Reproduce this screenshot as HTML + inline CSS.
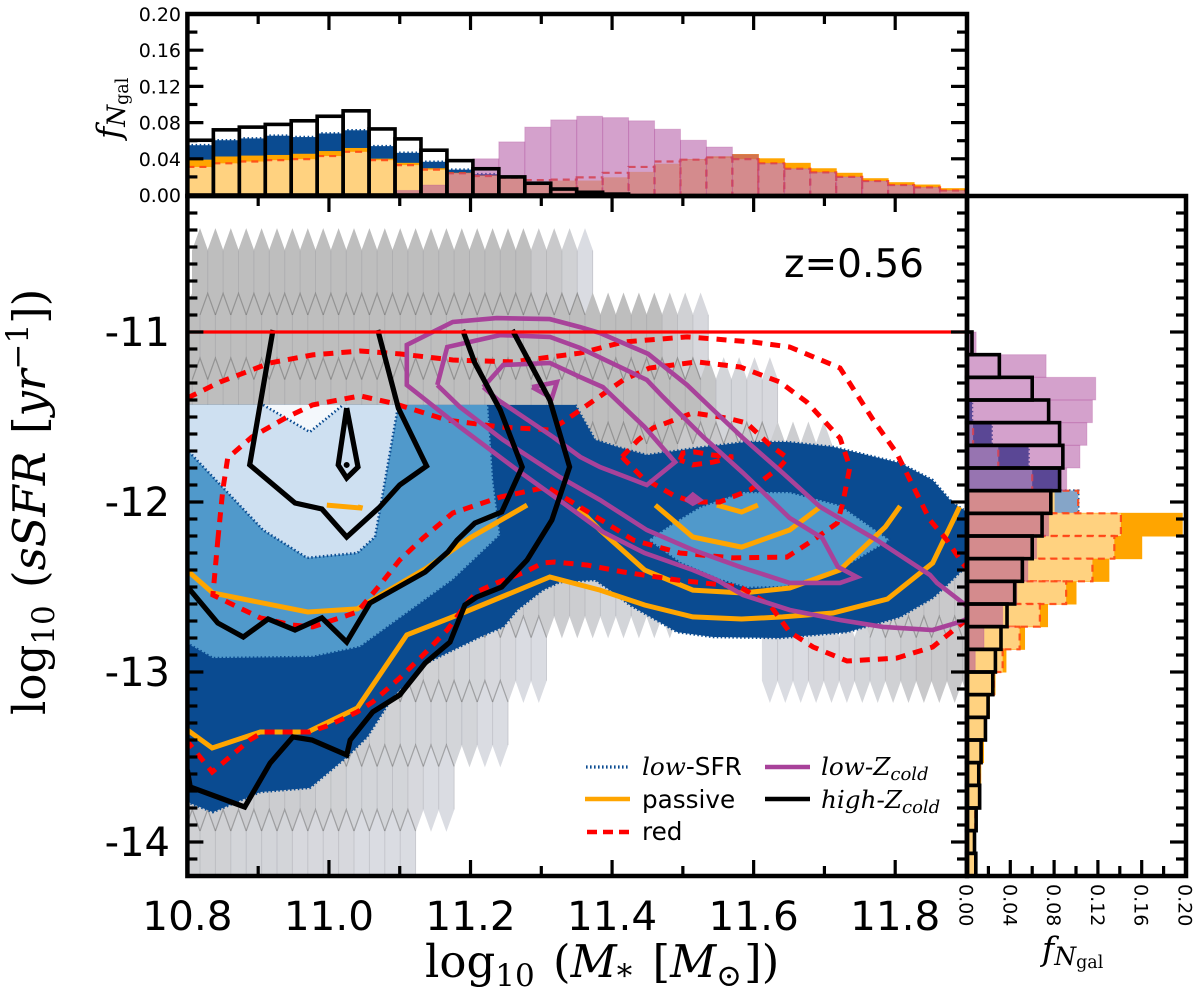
<!DOCTYPE html>
<html lang="en">
<head>
<meta charset="utf-8">
<title>sSFR versus stellar mass at z=0.56</title>
<style>
html,body{margin:0;padding:0;background:#fff;}
svg{display:block;}
text{fill:#000;}
.sans{font-family:"DejaVu Sans","Liberation Sans",sans-serif;}
.serif{font-family:"DejaVu Serif","Liberation Serif",serif;}
</style>
</head>
<body>
<svg id="figure" xmlns="http://www.w3.org/2000/svg" width="1200" height="992" viewBox="0 0 1200 992">
  <defs>
    <clipPath id="main-clip"><rect x="187" y="196" width="780" height="680"/></clipPath>
  </defs>
  <g id="main-plot" clip-path="url(#main-clip)">
    <g id="hex-layer"></g>
    <g id="blue-layer"></g>
    <g id="orange-layer"></g>
    <g id="red-layer"></g>
    <g id="purple-layer"></g>
    <g id="black-layer"></g>
    <g id="limit-layer"></g>
  </g>
  <g id="top-hist"></g>
  <g id="right-hist"></g>
  <g id="ticks"></g>
  <g fill="none" stroke="#000" stroke-width="4.5">
    <rect x="187.4" y="14" width="779.6" height="182"/>
    <rect x="187.4" y="196" width="779.6" height="680"/>
    <rect x="967" y="196" width="219" height="680"/>
  </g>
  <g id="tick-labels"></g>

  <text class="sans" x="784" y="277" font-size="39">z=0.56</text>

  <text class="serif" x="425" y="977" font-size="45">log<tspan font-size="31" dy="9">10</tspan><tspan dy="-9" dx="4"> (</tspan><tspan font-style="italic">M</tspan><tspan font-size="31" dy="9" font-style="italic">*</tspan><tspan dy="-9" dx="6"> [</tspan><tspan font-style="italic">M</tspan><tspan font-size="31" dy="9">⊙</tspan><tspan dy="-9" dx="2">])</tspan></text>

  <text class="serif" transform="translate(45,715) rotate(-90)" x="0" y="0" font-size="45">log<tspan font-size="31" dy="9">10</tspan><tspan dy="-9" dx="3"> (</tspan><tspan font-style="italic">sSFR</tspan><tspan dx="3"> [</tspan><tspan font-style="italic">yr</tspan><tspan font-size="31" dy="-17">−1</tspan><tspan dy="17">])</tspan></text>

  <text class="serif" transform="translate(120,139) rotate(-90)" x="0" y="0" font-size="33" font-style="italic">f<tspan font-size="25" dy="5">N</tspan><tspan font-size="17.5" dy="3" font-style="normal">gal</tspan></text>
  <text class="serif" x="1042" y="960" font-size="33" font-style="italic">f<tspan font-size="25" dy="5">N</tspan><tspan font-size="17.5" dy="3" font-style="normal">gal</tspan></text>

  <g>
    <g>
      <line x1="586" y1="767" x2="629" y2="767" stroke="#0A4B91" stroke-width="3.2" stroke-dasharray="1.6 2.4"/>
      <text class="sans" x="642" y="775" font-size="24.7"><tspan class="serif" font-style="italic">low</tspan>-SFR</text>
    </g>
    <g>
      <line x1="585" y1="799" x2="630" y2="799" stroke="#FFA500" stroke-width="4.5"/>
      <text class="sans" x="642" y="808" font-size="24.7">passive</text>
    </g>
    <g>
      <line x1="587" y1="832" x2="629" y2="832" stroke="#FF0000" stroke-width="4.5" stroke-dasharray="10 6"/>
      <text class="sans" x="642" y="840" font-size="24.7">red</text>
    </g>
    <g>
      <line x1="765" y1="767" x2="810" y2="767" stroke="#A8429A" stroke-width="4.5"/>
      <text class="serif" x="821" y="775" font-size="24.7" font-style="italic">low-Z<tspan font-size="18" dy="5">cold</tspan></text>
    </g>
    <g>
      <line x1="765" y1="799" x2="810" y2="799" stroke="#000" stroke-width="4.5"/>
      <text class="serif" x="821" y="808" font-size="24.7" font-style="italic">high-Z<tspan font-size="18" dy="5">cold</tspan></text>
    </g>
  </g>
</svg>

<script>
/* ---------- histogram values (fraction of galaxies per bin) ---------- */
const topBlue = [.055,.0605,.0625,.0655,.064,.068,.0715,.054,.0466,.0367,.028,.023,0,0,0,0,0,0,0,0,0,0,0,0,0,0,0,0,0,0];
const topOrange = [.0385,.042,.043,.0437,.045,.048,.0514,.0396,.035,.029,.024,.021,.0176,.011,.0154,.0154,.019,.025,.034,.039,.042,.0447,.04,.035,.029,.024,.018,.0136,.011,.007];
const topRed = [.031,.035,.037,.0385,.0396,.043,.0477,.0385,.033,.028,.024,.021,.019,.0165,.017,.0195,.0245,.031,.037,.039,.0415,.0396,.035,.029,.025,.02,.0154,.011,.0084,.005];
const topPurple = [0,0,0,0,0,0,0,.001,.005,.011,.024,.04,.0587,.075,.083,.087,.0855,.082,.0727,.0605,.053,.0447,.035,.029,.025,.02,.0154,.011,.0084,.005];
const topBlack = [.0605,.072,.075,.078,.082,.087,.093,.073,.062,.0495,.038,.029,.02,.013,.0066,.003,.001,0,0,0,0,0,0,0,0,0,0,0,0,0];

const rightBlue = [0,0,0,0,0,0,0,0,0,.005,.023,.0567,.085,.102,.08,.06,.05,.04,.03,.02,.01,0,0,0,0,0,0,0,0,0];
const rightOrange = [0,0,0,0,0,0,0,0,0,0,0,0,0,.08,.197,.16,.13,.1,.074,.053,.036,.026,.021,.018,.0155,.013,.012,.0095,.008,.009];
const rightRed = [0,0,0,0,0,0,0,0,0,0,.006,.029,.06,.102,.141,.135,.115,.091,.067,.0485,.033,.025,.02,.017,.014,.012,.012,.008,.007,.008];
const rightPurple = [0,0,0,0,0,0,.0088,.0727,.118,.115,.11,.1036,.0915,.078,.075,.064,.056,.046,.033,.016,.008,0,0,0,0,0,0,0,0,0];
const rightBlack = [0,0,0,0,0,0,.005,.03,.06,.075,.085,.088,.085,.077,.069,.06,.051,.044,.037,.0315,.0264,.024,.0197,.0173,.0133,.0112,.012,.0088,.0073,.0085];

/* ---------- tick labels ---------- */
const massTickLabels = ["10.8","11.0","11.2","11.4","11.6","11.8"];
const ssfrTickLabels = ["-11","-12","-13","-14"];
const fractionTickLabels = ["0.00","0.04","0.08","0.12","0.16","0.20"];

/* ---------- hexbin of the full sample: [row, first column, density levels] ---------- */
const hexRowSsfr = [-10.647,-11.026,-11.406,-11.785,-12.165,-12.544,-12.924,-13.303,-13.682,-14.062];
const hexRun0 = [0,0,[9,9,9,9,9,9,9,9,9,9,9,9,9,9,9,9,9,9,9,9,9,9,6,6,4,1]];
const hexRun1 = [1,-1,[9,9,9,9,9,9,9,9,9,9,9,9,9,9,9,9,9,9,9,9,9,9,9,9,9,9,9,9,9,9,9,6,4,2]];
const hexRun2 = [2,-1,[9,9,9,9,9,9,9,9,9,9,9,9,9,9,9,9,9,9,9,9,9,9,9,9,9,9,9,9,9,9,9,9,9,9,7,3,3,2,2]];
const hexRun3 = [3,-1,[9,9,9,9,9,9,9,9,9,9,9,9,9,9,9,9,9,9,9,9,9,9,9,9,9,9,9,9,9,9,9,9,6,6,6,6,6,6,5,5,4,3]];
const hexRun5a = [5,10,[5,5,5,5,5,5,5,5,5,5,5,5,5,5,5,4,3,3,3,3,3]];
const hexRun5b = [5,43,[5,5,6,6,6,6,6]];
const hexRun6a = [6,0,[5,5,5,5,5,5,5,5,5,5,5,5,5,5,5,4,4,3,3,2,2,1,1]];
const hexRun6b = [6,37,[1,1,1,2,2,2,3,3,4,5,6,6,6,6]];
const hexRun7 = [7,-1,[5,5,5,5,5,5,5,5,5,5,5,5,4,4,3,3,3,3,3,1,1]];
const hexRun8 = [8,-1,[5,5,5,5,5,5,5,5,5,4,4,3,3,3,3,2,1,1]];
const hexRun9 = [9,-1,[4,4,4,3,3,3,3,2,2,2,2,1,1,1,1]];
const hexRuns = [hexRun0,hexRun1,hexRun2,hexRun3,hexRun5a,hexRun5b,hexRun6a,hexRun6b,hexRun7,hexRun8,hexRun9];

/* ---------- contour vertices: [log10 M*, log10 sSFR] ---------- */
const lowSfrOuter = [[11.348,-11.429],[11.376,-11.635],[11.407,-11.676],[11.449,-11.724],[11.52,-11.682],[11.59,-11.647],[11.647,-11.647],[11.712,-11.676],[11.807,-11.771],[11.853,-11.871],[11.88,-12],[11.901,-12.059],[11.901,-12.371],[11.895,-12.4],[11.873,-12.488],[11.853,-12.565],[11.807,-12.676],[11.732,-12.765],[11.637,-12.8],[11.543,-12.794],[11.492,-12.765],[11.425,-12.606],[11.397,-12.518],[11.376,-12.459],[11.326,-12.471],[11.302,-12.518],[11.266,-12.635],[11.246,-12.735],[11.213,-12.794],[11.175,-12.871],[11.138,-12.947],[11.09,-13.147],[11.054,-13.382],[11.025,-13.5],[10.973,-13.682],[10.903,-13.706],[10.836,-13.824],[10.804,-13.771],[10.8,-13.753],[10.8,-11.429]];
const lowSfrMidLeft = [[11.225,-11.429],[11.232,-11.871],[11.242,-12.194],[11.175,-12.459],[11.044,-12.853],[10.977,-12.912],[10.836,-12.918],[10.804,-12.841],[10.8,-12.829],[10.8,-11.429]];
const lowSfrMidRight = [[11.451,-12.224],[11.486,-12.124],[11.524,-12.029],[11.552,-11.988],[11.585,-11.941],[11.651,-11.941],[11.722,-12.018],[11.793,-12.224],[11.722,-12.4],[11.647,-12.5],[11.59,-12.506],[11.552,-12.459],[11.496,-12.359],[11.451,-12.224]];
const lowSfrInner = [[11.098,-11.429],[11.072,-12.047],[11.065,-12.206],[11.04,-12.3],[10.969,-12.329],[10.907,-12.165],[10.804,-11.712],[10.8,-11.694],[10.8,-11.429]];
const lowSfrPeak = [[10.907,-11.429],[10.973,-11.588],[11.02,-11.429]];

const passiveA = [[10.8,-12.4],[10.804,-12.418],[10.836,-12.535],[10.97,-12.647],[11.04,-12.629],[11.068,-12.559],[11.138,-12.388],[11.199,-12.212],[11.28,-12.018]];
const passiveB = [[10.8,-13.341],[10.804,-13.353],[10.835,-13.447],[10.903,-13.353],[10.97,-13.353],[11.04,-13.212],[11.11,-12.782],[11.189,-12.653],[11.312,-12.441],[11.383,-12.518],[11.446,-12.606],[11.514,-12.676],[11.583,-12.688],[11.641,-12.676],[11.712,-12.653],[11.789,-12.571],[11.853,-12.359],[11.891,-12.029]];
const passiveC = [[11.352,-12.035],[11.383,-12.165],[11.446,-12.4],[11.514,-12.518],[11.585,-12.535],[11.651,-12.506],[11.722,-12.4],[11.786,-12.147],[11.807,-12.024]];
const passiveD = [[11.461,-12.018],[11.514,-12.206],[11.583,-12.265],[11.651,-12.165],[11.694,-12.029]];
const passiveE = [[11.548,-12.018],[11.583,-12.059],[11.606,-12.018]];
const passiveF = [[10.997,-12.018],[11.044,-12.035],[11.045,-12.018]];

const redOuterUpper = [[10.8,-11.388],[10.846,-11.294],[10.917,-11.182],[10.977,-11.135],[11.044,-11.112],[11.1,-11.129],[11.175,-11.165],[11.26,-11.176],[11.355,-11.124],[11.416,-11.059],[11.506,-11.029],[11.599,-11.059],[11.651,-11.088],[11.722,-11.212],[11.769,-11.518],[11.802,-11.712],[11.849,-12.106],[11.873,-12.224],[11.895,-12.359],[11.901,-12.388]];
const redOuterLower = [[11.901,-12.694],[11.895,-12.712],[11.853,-12.853],[11.802,-12.918],[11.732,-12.935],[11.684,-12.853],[11.651,-12.765],[11.623,-12.606],[11.581,-12.5],[11.492,-12.459],[11.416,-12.412],[11.365,-12.371],[11.319,-12.353],[11.302,-12.359],[11.277,-12.412],[11.237,-12.476],[11.209,-12.529],[11.195,-12.594],[11.167,-12.753],[11.133,-12.9],[11.1,-13.035],[11.062,-13.176],[11.04,-13.235],[11.001,-13.312],[10.973,-13.353],[10.907,-13.353],[10.888,-13.4],[10.835,-13.588],[10.804,-13.429],[10.8,-13.41]];
const redMiddle = [[10.843,-12.224],[10.85,-11.929],[10.857,-11.741],[10.891,-11.618],[10.941,-11.5],[10.977,-11.429],[11.044,-11.376],[11.09,-11.418],[11.167,-11.518],[11.242,-11.559],[11.312,-11.576],[11.331,-11.529],[11.355,-11.459],[11.416,-11.282],[11.453,-11.212],[11.52,-11.176],[11.581,-11.206],[11.637,-11.294],[11.675,-11.412],[11.722,-11.624],[11.736,-11.794],[11.726,-12.006],[11.718,-12.124],[11.684,-12.224],[11.647,-12.324],[11.571,-12.329],[11.496,-12.3],[11.43,-12.224],[11.373,-12.076],[11.308,-11.912],[11.242,-11.971],[11.175,-12.065],[11.133,-12.212],[11.1,-12.341],[11.072,-12.488],[11.04,-12.647],[10.977,-12.735],[10.949,-12.724],[10.903,-12.682],[10.836,-12.547],[10.843,-12.224]];
const redInner = [[11.414,-11.735],[11.437,-11.635],[11.458,-11.565],[11.514,-11.476],[11.562,-11.506],[11.59,-11.535],[11.623,-11.665],[11.648,-11.741],[11.637,-11.794],[11.595,-11.929],[11.552,-12],[11.514,-12],[11.486,-11.959],[11.442,-11.853],[11.414,-11.735]];
const redPeak = [[11.496,-11.753],[11.5,-11.712],[11.517,-11.706],[11.543,-11.724],[11.571,-11.735],[11.543,-11.765],[11.514,-11.782],[11.496,-11.753]];

const purpleOuter = [[11.901,-12.612],[11.894,-12.588],[11.859,-12.476],[11.849,-12.429],[11.774,-12.224],[11.694,-12.029],[11.641,-11.829],[11.585,-11.624],[11.543,-11.459],[11.506,-11.312],[11.451,-11.129],[11.383,-11.006],[11.355,-10.971],[11.312,-10.924],[11.237,-10.918],[11.175,-10.941],[11.11,-11.076],[11.11,-11.312],[11.185,-11.559],[11.266,-11.812],[11.331,-12.006],[11.387,-12.176],[11.446,-12.3],[11.514,-12.4],[11.548,-12.459],[11.585,-12.547],[11.651,-12.635],[11.722,-12.694],[11.783,-12.735],[11.853,-12.753],[11.891,-12.706],[11.901,-12.688]];
const purpleMiddle = [[11.153,-11.312],[11.167,-11.088],[11.242,-11.018],[11.312,-11.029],[11.355,-11.094],[11.449,-11.282],[11.472,-11.382],[11.529,-11.618],[11.585,-11.829],[11.651,-12.094],[11.697,-12.212],[11.719,-12.382],[11.746,-12.441],[11.722,-12.476],[11.651,-12.476],[11.581,-12.382],[11.514,-12.282],[11.449,-12.165],[11.383,-11.988],[11.326,-11.853],[11.246,-11.635],[11.185,-11.441],[11.153,-11.312]];
const purpleInner = [[11.218,-11.324],[11.246,-11.194],[11.312,-11.182],[11.355,-11.265],[11.387,-11.324],[11.446,-11.559],[11.489,-11.765],[11.449,-11.9],[11.383,-11.794],[11.355,-11.735],[11.317,-11.618],[11.239,-11.4],[11.218,-11.324]];
const purplePeakA = [[11.287,-11.324],[11.322,-11.294],[11.315,-11.388],[11.287,-11.324]];
const purplePeakB = [[11.503,-11.988],[11.514,-11.947],[11.527,-11.988],[11.514,-12.018],[11.503,-11.988]];

const blackOuter = [[10.921,-10.988],[10.888,-11.782],[10.952,-12.006],[10.99,-12.041],[11.025,-12.206],[11.072,-12.029],[11.1,-11.9],[11.138,-11.788],[11.098,-11.447],[11.069,-10.988]];
const blackTear = [[11.025,-11.447],[11.013,-11.782],[11.025,-11.859],[11.041,-11.794],[11.025,-11.447]];
const blackCore = [11.025,-11.782];
const blackMiddle = [[11.189,-10.988],[11.206,-11.182],[11.242,-11.459],[11.273,-11.794],[11.244,-12.059],[11.206,-12.124],[11.181,-12.224],[11.168,-12.294],[11.136,-12.412],[11.058,-12.594],[11.025,-12.824],[10.99,-12.682],[10.952,-12.753],[10.914,-12.688],[10.879,-12.794],[10.843,-12.712],[10.804,-12.518],[10.8,-12.5]];
const blackWide = [[11.259,-10.988],[11.312,-11.4],[11.34,-11.794],[11.315,-12.106],[11.28,-12.341],[11.244,-12.5],[11.209,-12.559],[11.192,-12.606],[11.171,-12.824],[11.136,-12.947],[11.1,-13.135],[11.062,-13.235],[11.03,-13.4],[11.025,-13.488],[10.976,-13.4],[10.949,-13.382],[10.917,-13.535],[10.881,-13.794],[10.804,-13.676],[10.8,-13.576]];

const ssfrLimit = [-11];

/* ---------- axis functions ---------- */
const NS = 'http://www.w3.org/2000/svg';
function xScale(m){ return 187.4 + (m - 10.8) * 707.8; }
function yScale(s){ return 332 + (-11 - s) * 170; }
function topY(f){ return 195 - f * 905; }
function rightX(f){ return 966.5 + f * 1095; }
function massEdge(k){ return 10.8 + k * (1.1 / 30); }
function ssfrEdge(j){ return -10.2 - j * (4 / 30); }

function mk(tag, attrs, parent){
  const el = document.createElementNS(NS, tag);
  for (const key in attrs) el.setAttribute(key, attrs[key]);
  parent.appendChild(el);
  return el;
}
function pathOf(points){
  return points.map(function(p, i){
    return (i ? 'L' : 'M') + xScale(p[0]).toFixed(1) + ' ' + yScale(p[1]).toFixed(1);
  }).join('');
}

/* ---------- hexbin ---------- */
const hexLayer = document.getElementById('hex-layer');
const hexColMass = 10.8178;
const hexColStep = 0.02176;
const hexTip = 0.253;
const hexShoulder = 0.1265;
function hexCenterMass(row, col){ return hexColMass + hexColStep * (col + (row % 2 ? 0.5 : 0)); }
function hexColour(level){
  const t = level / 9;
  const r = Math.round(222 + (190 - 222) * t);
  const g = Math.round(224 + (190 - 224) * t);
  const b = Math.round(230 + (190 - 230) * t);
  return 'rgb(' + r + ',' + g + ',' + b + ')';
}
const hexOccupied = {};
hexRuns.forEach(function(run){
  run[2].forEach(function(level, n){ hexOccupied[run[0] + ':' + (run[1] + n)] = true; });
});
hexRuns.forEach(function(run){
  const row = run[0];
  run[2].forEach(function(level, n){
    const col = run[1] + n;
    const cm = hexCenterMass(row, col);
    const cs = hexRowSsfr[row];
    const hw = hexColStep / 2;
    const pts = [[cm, cs + hexTip],[cm + hw, cs + hexShoulder],[cm + hw, cs - hexShoulder],[cm, cs - hexTip],[cm - hw, cs - hexShoulder],[cm - hw, cs + hexShoulder]];
    const colour = hexColour(level);
    const hex = mk('path', {d: pathOf(pts) + 'Z', fill: colour, stroke: colour, 'stroke-width': 0.6}, hexLayer);
    
    
  });
});
hexRuns.forEach(function(run){
  const row = run[0];
  run[2].forEach(function(level, n){
    const col = run[1] + n;
    const cm = hexCenterMass(row, col);
    const cs = hexRowSsfr[row];
    const hw = hexColStep / 2;
    const side = mk('path', {d: pathOf([[cm + hw, cs + hexShoulder],[cm + hw, cs - hexShoulder]]), fill: 'none', stroke: 'rgba(125,125,130,.22)', 'stroke-width': 1}, hexLayer);
    
    
    const leftAbove = (row % 2) ? col : col - 1;
    if (!(hexOccupied[(row - 1) + ':' + leftAbove] && hexOccupied[(row - 1) + ':' + (leftAbove + 1)])) return;
    const pts = [[cm - hw, cs + hexShoulder],[cm, cs + hexTip],[cm + hw, cs + hexShoulder]];
    const edge = mk('path', {d: pathOf(pts), fill: 'none', stroke: 'rgba(105,105,105,.5)', 'stroke-width': 1.2}, hexLayer);
    
    
  });
});

/* ---------- low-SFR filled contours ---------- */
const blueLayer = document.getElementById('blue-layer');
function filledContour(points, fill, name){
  const c = mk('path', {d: pathOf(points), fill: fill, stroke: '#0A4B91', 'stroke-width': 2.6, 'stroke-dasharray': '1.5 2.4'}, blueLayer);
  
  
}
filledContour(lowSfrOuter, '#0A4B91', 'low-sfr-outer-contour');
filledContour(lowSfrMidLeft, '#5099CB', 'low-sfr-middle-contour-left');
filledContour(lowSfrMidRight, '#5099CB', 'low-sfr-middle-contour-right');
filledContour(lowSfrInner, '#CEE0F1', 'low-sfr-inner-contour');
filledContour(lowSfrPeak, '#F4F8FC', 'low-sfr-peak-contour');

/* ---------- line contours ---------- */
function lineContour(layerId, points, colour, width, dash, name){
  const attrs = {d: pathOf(points), fill: 'none', stroke: colour, 'stroke-width': width, 'stroke-linejoin': 'miter', 'stroke-miterlimit': 4};
  if (dash) attrs['stroke-dasharray'] = dash;
  const c = mk('path', attrs, document.getElementById(layerId));
  
  
}
[passiveA, passiveB, passiveC, passiveD, passiveE, passiveF].forEach(function(points){
  lineContour('orange-layer', points, '#FFA500', 5, null, 'passive-contour');
});
[redOuterUpper, redOuterLower, redMiddle, redInner, redPeak].forEach(function(points){
  lineContour('red-layer', points, '#FF0000', 5, '10 8', 'red-contour');
});
[purpleOuter, purpleMiddle, purpleInner, purplePeakA].forEach(function(points){
  lineContour('purple-layer', points, '#A8429A', 4.6, null, 'low-zcold-contour');
});
const purpleDiamond = mk('path', {d: pathOf(purplePeakB), fill: '#A8429A', stroke: '#A8429A', 'stroke-width': 2}, document.getElementById('purple-layer'));


[blackOuter, blackTear, blackMiddle, blackWide].forEach(function(points){
  lineContour('black-layer', points, '#000', 5.2, null, 'high-zcold-contour');
});
const coreDot = mk('circle', {cx: xScale(blackCore[0]), cy: yScale(blackCore[1]), r: 3, fill: '#000'}, document.getElementById('black-layer'));



const limitLine = mk('line', {x1: xScale(10.8), x2: xScale(11.9), y1: yScale(ssfrLimit[0]), y2: yScale(ssfrLimit[0]), stroke: '#FF0000', 'stroke-width': 3.2}, document.getElementById('limit-layer'));



/* ---------- histograms ---------- */
const histStyles = {
  blue:   {fill: '#0A4B91', stroke: '#0A4B91', width: 2.6, dash: '1.5 2.6'},
  orange: {fill: '#FFA500', stroke: '#FFA500', width: 1, dash: null},
  red:    {fill: 'rgba(255,255,255,.5)', stroke: 'rgba(255,70,20,.9)', width: 2.2, dash: '7 5'},
  purple: {fill: 'rgba(170,68,153,.5)', stroke: 'rgba(170,68,153,.25)', width: 1, dash: null},
  black:  {fill: 'none', stroke: '#000', width: 3.6, dash: null}
};
const topGroup = document.getElementById('top-hist');
const rightGroup = document.getElementById('right-hist');
function styleAttrs(style){
  const a = {fill: style.fill, stroke: style.stroke, 'stroke-width': style.width};
  if (style.dash) a['stroke-dasharray'] = style.dash;
  return a;
}
function drawTopHist(values, style){
  values.forEach(function(v, k){
    if (v <= 0) return;
    const x0 = xScale(massEdge(k));
    const x1 = xScale(massEdge(k + 1));
    const a = styleAttrs(style);
    a.x = x0; a.width = x1 - x0; a.y = topY(v); a.height = topY(0) - topY(v);
    const bar = mk('rect', a, topGroup);
    
    
  });
}
function drawRightHist(values, style){
  values.forEach(function(v, j){
    if (v <= 0) return;
    const y0 = yScale(ssfrEdge(j));
    const y1 = yScale(ssfrEdge(j + 1));
    const a = styleAttrs(style);
    a.x = rightX(0); a.width = rightX(v) - rightX(0); a.y = y0; a.height = y1 - y0;
    const bar = mk('rect', a, rightGroup);
    
    
  });
}
drawTopHist(topBlue, histStyles.blue);
drawTopHist(topOrange, histStyles.orange);
drawTopHist(topRed, histStyles.red);
drawTopHist(topPurple, histStyles.purple);
drawTopHist(topBlack, histStyles.black);
drawRightHist(rightBlue, histStyles.blue);
drawRightHist(rightOrange, histStyles.orange);
drawRightHist(rightRed, histStyles.red);
drawRightHist(rightPurple, histStyles.purple);
drawRightHist(rightBlack, histStyles.black);

/* ---------- ticks ---------- */
const tickGroup = document.getElementById('ticks');
function tick(x1, y1, x2, y2){
  const t = mk('line', {x1: x1, y1: y1, x2: x2, y2: y2, stroke: '#000', 'stroke-width': 3.2}, tickGroup);
  
  
}
const MAJOR = 16, MINOR = 10;
for (let i = 1; i <= 10; i++) {
  const m = 10.8 + i * 0.1;
  const x = xScale(m);
  const len = i % 2 === 0 ? MAJOR : MINOR;
  tick(x, 876, x, 876 - len);
  tick(x, 196, x, 196 + len);
  tick(x, 14, x, 14 + len);
}
for (let i = 1; i <= 39; i++) {
  const s = -10.2 - i * 0.1;
  const y = yScale(s);
  const len = (i + 2) % 10 === 0 ? MAJOR : MINOR;
  tick(187.4, y, 187.4 + len, y);
  tick(967, y, 967 - len, y);
  tick(1186, y, 1186 - len, y);
}
for (let i = 1; i <= 9; i++) {
  const f = i * 0.02;
  const len = i % 2 === 0 ? MAJOR : MINOR;
  tick(187.4, topY(f), 187.4 + len, topY(f));
  tick(967, topY(f), 967 - len, topY(f));
  tick(rightX(f), 876, rightX(f), 876 - len);
}

/* ---------- tick labels ---------- */
const labelGroup = document.getElementById('tick-labels');
function label(text, x, y, size, anchor, transform){
  const a = {x: x, y: y, 'font-size': size, 'text-anchor': anchor, 'class': 'sans'};
  if (transform) a.transform = transform;
  const t = mk('text', a, labelGroup);
  t.textContent = text;
  
  
}
massTickLabels.forEach(function(text){
  label(text, xScale(parseFloat(text)), 930, 40.5, 'middle');
});
ssfrTickLabels.forEach(function(text){
  label(text, 170, yScale(parseFloat(text)) + 14, 40, 'end');
});
fractionTickLabels.forEach(function(text){
  const f = parseFloat(text);
  label(text, 181, topY(f) + 7, 19, 'end');
  const x = rightX(f);
  label(text, 0, 0, 19, 'start', 'translate(' + (x - 7) + ',884) rotate(90)');
});
</script>
</body>
</html>
